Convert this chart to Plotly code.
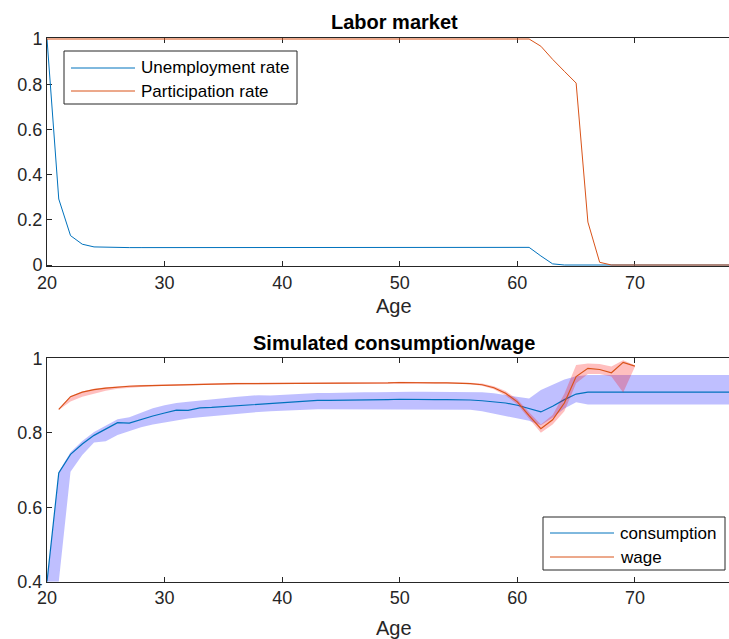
import plotly.graph_objects as go

# ---------------- data ----------------
ages = [20, 21, 22, 23, 24, 25, 26, 27, 28, 29, 30, 31, 32, 33, 34, 35, 36, 37, 38, 39,
        40, 41, 42, 43, 44, 45, 46, 47, 48, 49, 50, 51, 52, 53, 54, 55, 56, 57, 58, 59,
        60, 61, 62, 63, 64, 65, 66, 67, 68, 69, 70, 71, 72, 73, 74, 75, 76, 77, 78]

unemployment_rate = [
    1.000, 0.292, 0.130, 0.092, 0.080,
    0.078, 0.077, 0.077, 0.077, 0.077,
    0.078, 0.078, 0.078, 0.078, 0.077,
    0.077, 0.077, 0.077, 0.078, 0.077,
    0.076, 0.076, 0.077, 0.077, 0.077,
    0.076, 0.077, 0.077, 0.077, 0.077,
    0.077, 0.077, 0.078, 0.078, 0.077,
    0.077, 0.077, 0.077, 0.078, 0.078,
    0.078, 0.078, 0.040, 0.005, 0.000,
    0.000, 0.000, 0.000, 0.000, 0.000,
    0.000, 0.000, 0.000, 0.000, 0.000,
    0.000, 0.000, 0.000, 0.000]

participation_rate = [
    1.000, 1.000, 1.000, 1.000, 1.000,
    1.000, 1.000, 1.000, 1.000, 1.000,
    1.000, 1.000, 1.000, 1.000, 1.000,
    1.000, 1.000, 1.000, 1.000, 1.000,
    1.000, 1.000, 1.000, 1.000, 1.000,
    1.000, 1.000, 1.000, 1.000, 1.000,
    1.000, 1.000, 1.000, 1.000, 1.000,
    1.000, 1.000, 1.000, 1.000, 1.000,
    1.000, 1.000, 0.968, 0.910, 0.857,
    0.805, 0.190, 0.012, 0.000, 0.000,
    0.000, 0.000, 0.000, 0.000, 0.000,
    0.000, 0.000, 0.000, 0.000]

consumption = [
    0.400, 0.692, 0.742, 0.770, 0.793,
    0.810, 0.827, 0.826, 0.836, 0.845,
    0.853, 0.861, 0.860, 0.867, 0.868,
    0.870, 0.872, 0.874, 0.877, 0.879,
    0.881, 0.883, 0.885, 0.887, 0.887,
    0.887, 0.888, 0.888, 0.889, 0.889,
    0.890, 0.889, 0.889, 0.889, 0.889,
    0.889, 0.888, 0.886, 0.884, 0.880,
    0.874, 0.866, 0.856, 0.871, 0.889,
    0.904, 0.909, 0.909, 0.909, 0.909,
    0.909, 0.909, 0.909, 0.909, 0.909,
    0.909, 0.909, 0.909, 0.909]

consumption_hi = [
    0.400, 0.695, 0.748, 0.778, 0.802,
    0.820, 0.836, 0.842, 0.855, 0.866,
    0.874, 0.880, 0.883, 0.887, 0.890,
    0.893, 0.896, 0.899, 0.901, 0.900,
    0.902, 0.904, 0.906, 0.907, 0.907,
    0.908, 0.909, 0.909, 0.909, 0.910,
    0.910, 0.910, 0.910, 0.910, 0.910,
    0.910, 0.910, 0.909, 0.906, 0.902,
    0.897, 0.892, 0.915, 0.930, 0.943,
    0.952, 0.955, 0.955, 0.955, 0.955,
    0.955, 0.955, 0.955, 0.955, 0.955,
    0.955, 0.955, 0.955, 0.955]

consumption_lo = [
    0.400, 0.400, 0.695, 0.740, 0.774,
    0.777, 0.794, 0.805, 0.815, 0.822,
    0.828, 0.834, 0.838, 0.842, 0.845,
    0.848, 0.851, 0.854, 0.856, 0.858,
    0.860, 0.861, 0.862, 0.863, 0.863,
    0.863, 0.863, 0.863, 0.863, 0.863,
    0.863, 0.863, 0.863, 0.863, 0.863,
    0.863, 0.862, 0.858, 0.852, 0.846,
    0.840, 0.832, 0.820, 0.840, 0.865,
    0.882, 0.876, 0.876, 0.876, 0.876,
    0.876, 0.876, 0.876, 0.876, 0.876,
    0.876, 0.876, 0.876, 0.876]

wage_ages = [21, 22, 23, 24, 25, 26, 27, 28, 29, 30, 31, 32, 33, 34, 35, 36, 37, 38, 39, 40,
             41, 42, 43, 44, 45, 46, 47, 48, 49, 50, 51, 52, 53, 54, 55, 56, 57, 58, 59, 60,
             61, 62, 63, 64, 65, 66, 67, 68, 69, 70]

wage = [
    0.863, 0.897, 0.909, 0.916, 0.920,
    0.923, 0.925, 0.926, 0.927, 0.928,
    0.929, 0.930, 0.930, 0.931, 0.931,
    0.932, 0.932, 0.932, 0.933, 0.933,
    0.933, 0.933, 0.933, 0.934, 0.934,
    0.934, 0.934, 0.934, 0.934, 0.935,
    0.934, 0.934, 0.934, 0.934, 0.934,
    0.932, 0.929, 0.921, 0.906, 0.883,
    0.846, 0.811, 0.835, 0.880, 0.951,
    0.973, 0.970, 0.961, 0.989, 0.979]

wage_hi = [
    0.864, 0.899, 0.911, 0.918, 0.922,
    0.925, 0.927, 0.928, 0.929, 0.930,
    0.931, 0.932, 0.932, 0.933, 0.933,
    0.934, 0.934, 0.934, 0.935, 0.935,
    0.935, 0.935, 0.935, 0.936, 0.936,
    0.936, 0.936, 0.936, 0.936, 0.937,
    0.936, 0.936, 0.936, 0.936, 0.936,
    0.934, 0.932, 0.925, 0.912, 0.890,
    0.855, 0.822, 0.848, 0.905, 0.982,
    0.986, 0.985, 0.978, 0.995, 0.981]

wage_lo = [
    0.861, 0.884, 0.897, 0.906, 0.913,
    0.918, 0.921, 0.923, 0.925, 0.926,
    0.927, 0.928, 0.928, 0.929, 0.929,
    0.930, 0.930, 0.930, 0.931, 0.931,
    0.931, 0.931, 0.931, 0.932, 0.932,
    0.932, 0.932, 0.932, 0.932, 0.933,
    0.932, 0.932, 0.932, 0.932, 0.932,
    0.930, 0.926, 0.917, 0.900, 0.876,
    0.838, 0.800, 0.822, 0.858, 0.933,
    0.958, 0.958, 0.951, 0.908, 0.977]

x_ticks = [20, 30, 40, 50, 60, 70]
top_y_ticks = [0, 0.2, 0.4, 0.6, 0.8, 1]
top_y_labels = ["0", "0.2", "0.4", "0.6", "0.8", "1"]
bot_y_ticks = [0.4, 0.6, 0.8, 1]
bot_y_labels = ["0.4", "0.6", "0.8", "1"]

# ---------------- styling ----------------
W, H = 729, 639
ML = 47                     # left margin in px
PLOT_W = W - ML
BLUE = "#0072BD"
ORANGE = "#D95319"
AXIS_COL = "#262626"
FONT = "Liberation Sans, Arial, Helvetica, sans-serif"
PAD = 1 / 226               # one pixel of headroom so lines at 0 and 1 stay visible


def px_x(px):
    return (px - ML) / PLOT_W


def px_y(py):
    return 1 - py / H


fig = go.Figure()

# ---- top panel: labor market ----
fig.add_trace(go.Scatter(x=ages, y=unemployment_rate, mode="lines",
                         line=dict(color=BLUE, width=1), showlegend=False,
                         xaxis="x", yaxis="y", name="Unemployment rate"))
fig.add_trace(go.Scatter(x=ages, y=participation_rate, mode="lines",
                         line=dict(color=ORANGE, width=1), showlegend=False,
                         xaxis="x", yaxis="y", name="Participation rate"))

# ---- bottom panel: consumption / wage with bands ----
fig.add_trace(go.Scatter(x=ages, y=consumption_hi, mode="lines", line=dict(width=0),
                         hoverinfo="skip", showlegend=False, xaxis="x2", yaxis="y2"))
fig.add_trace(go.Scatter(x=ages, y=consumption_lo, mode="lines", line=dict(width=0),
                         fill="tonexty", fillcolor="rgba(0,0,255,0.25)",
                         hoverinfo="skip", showlegend=False, xaxis="x2", yaxis="y2"))
fig.add_trace(go.Scatter(x=ages, y=consumption, mode="lines",
                         line=dict(color=BLUE, width=1.2), showlegend=False,
                         xaxis="x2", yaxis="y2", name="consumption"))
fig.add_trace(go.Scatter(x=wage_ages, y=wage_hi, mode="lines", line=dict(width=0),
                         hoverinfo="skip", showlegend=False, xaxis="x2", yaxis="y2"))
fig.add_trace(go.Scatter(x=wage_ages, y=wage_lo, mode="lines", line=dict(width=0),
                         fill="tonexty", fillcolor="rgba(255,0,0,0.25)",
                         hoverinfo="skip", showlegend=False, xaxis="x2", yaxis="y2"))
fig.add_trace(go.Scatter(x=wage_ages, y=wage, mode="lines",
                         line=dict(color=ORANGE, width=1.2), showlegend=False,
                         xaxis="x2", yaxis="y2", name="wage"))

tickfont = dict(family=FONT, size=18, color=AXIS_COL)
common_x = dict(range=[20, 78], tickvals=x_ticks, ticks="inside", ticklen=5,
                tickcolor=AXIS_COL, showline=True, linecolor=AXIS_COL, linewidth=1,
                mirror="ticks", showgrid=False, zeroline=False, tickfont=tickfont,
                domain=[0, 1], automargin=False, layer="below traces")
common_y = dict(ticks="inside", ticklen=5, tickcolor=AXIS_COL, showline=True,
                linecolor=AXIS_COL, linewidth=1, showgrid=False, zeroline=False,
                tickfont=tickfont, automargin=False, layer="below traces")

fig.update_layout(
    width=W, height=H,
    margin=dict(l=ML, r=0, t=0, b=0, pad=0, autoexpand=False),
    paper_bgcolor="white", plot_bgcolor="white",
    showlegend=False,
    xaxis=dict(anchor="y", **common_x),
    yaxis=dict(anchor="x", range=[-PAD, 1 + PAD], tickvals=top_y_ticks,
               ticktext=top_y_labels, domain=[px_y(266), px_y(38)], **common_y),
    xaxis2=dict(anchor="y2", **common_x),
    yaxis2=dict(anchor="x2", range=[0.4, 1], tickvals=bot_y_ticks, ticktext=bot_y_labels,
                domain=[px_y(581.7), px_y(358.3)], **common_y),
)

annotations = []
shapes = []

# titles and axis labels
for text, py, bold in [("Labor market", 22, True),
                       ("Simulated consumption/wage", 343, True),
                       ("Age", 306, False), ("Age", 628, False)]:
    annotations.append(dict(
        text=f"<b>{text}</b>" if bold else text, xref="paper", yref="paper",
        x=px_x(394), y=px_y(py), xanchor="center", yanchor="middle", showarrow=False,
        font=dict(family=FONT, size=20, color="black" if bold else AXIS_COL)))


def add_legend(box, rows):
    x0, y0, x1, y1 = box
    shapes.append(dict(type="rect", xref="paper", yref="paper",
                       x0=px_x(x0), x1=px_x(x1), y0=px_y(y1), y1=px_y(y0),
                       line=dict(color=AXIS_COL, width=1), fillcolor="white", layer="above"))
    for label, color, py in rows:
        shapes.append(dict(type="line", xref="paper", yref="paper",
                           x0=px_x(x0 + 7), x1=px_x(x0 + 71), y0=px_y(py), y1=px_y(py),
                           line=dict(color=color, width=1), layer="above"))
        annotations.append(dict(text=label, xref="paper", yref="paper",
                                x=px_x(x0 + 75), y=px_y(py), xanchor="left",
                                yanchor="middle", showarrow=False,
                                font=dict(family=FONT, size=17, color="black")))


add_legend((64, 51, 297, 104), [("Unemployment rate", BLUE, 68),
                                ("Participation rate", ORANGE, 91)])
add_legend((543, 517, 725, 570), [("consumption", BLUE, 533),
                                  ("wage", ORANGE, 557)])

fig.update_layout(annotations=annotations, shapes=shapes)
fig.write_html("out.html")
